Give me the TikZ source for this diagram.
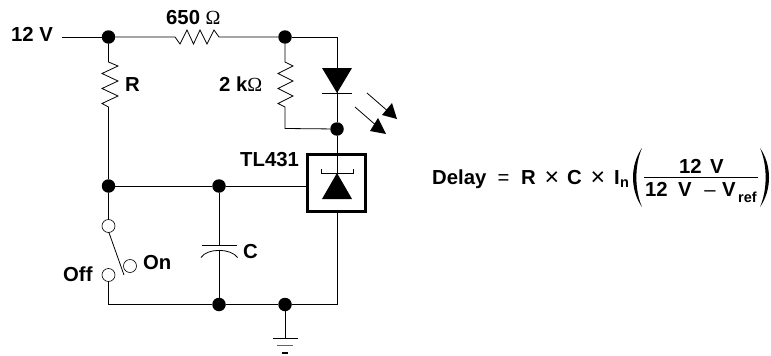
\documentclass[tikz,border=0pt]{standalone}
\usepackage{fontspec}
\setmainfont{Liberation Sans}
\newfontfamily\symfont{Liberation Serif}
\newcommand{\OhmSym}{{\symfont\fontsize{20}{22}\selectfont\mdseries Ω}}
\begin{document}
\begin{tikzpicture}[x=1pt,y=-1pt,
  wire/.style={line width=0.8pt,line join=miter},
  dot/.style={circle,fill=black,draw=none,minimum size=13.5pt,inner sep=0pt},
  open/.style={circle,draw=black,fill=white,line width=0.6pt,minimum size=13pt,inner sep=0pt},
  lab/.style={font=\bfseries\fontsize{20.3}{22}\selectfont,inner sep=0pt,text=black,anchor=base west},
  sublab/.style={font=\bfseries\fontsize{14.5}{16}\selectfont,inner sep=0pt,text=black,anchor=base west},
  oplab/.style={font=\fontsize{20.3}{22}\selectfont,inner sep=0pt,text=black,anchor=base},
  timeslab/.style={font=\fontsize{25}{26}\selectfont,inner sep=0pt,text=black,anchor=base},
  blk/.style={fill=black,draw=none}]
\useasboundingbox (0,0) rectangle (771,356);
\node[dot] (top) at (108.5,37) {};
\node[dot] (mid) at (285,37) {};
\node[dot] (j) at (337,129) {};
\node[dot] (lft) at (108.5,186) {};
\node[dot] (cap) at (219,186) {};
\node[dot] (bc) at (219,304.5) {};
\node[dot] (bg) at (285,304.5) {};
\node[open] (s1) at (108.5,226) {};
\node[open] (s2) at (130,266) {};
\node[open] (s3) at (108.5,275) {};
\coordinate (in) at (62,37);
\coordinate (cor) at (337,37);
\coordinate (bl) at (108.5,304.5);
\coordinate (br) at (337,304.5);
\coordinate (gnd) at (285,338.5);
\coordinate (kb) at (285,128.5);
\draw[wire] (in) -- (top);
\draw[wire] (top) -- (175,37) -- (180,44) -- (187,30) -- (193.5,44) -- (200,30) -- (207,44) -- (214,30) -- (219,37) -- (mid);
\draw[wire] (mid) -- (cor) -- (j);
\draw[wire] (top) -- (108.5,62) -- (118,66) -- (102,73.5) -- (118,81) -- (102,88.5) -- (118,96) -- (102,103.5) -- (108.5,107) -- (lft);
\draw[wire] (mid) -- (285,62) -- (293,66) -- (278,73.5) -- (293,81) -- (278,88.5) -- (293,96) -- (278,103.5) -- (285,107) -- (kb) -- (j);
\draw[wire] (lft) -- (s1);
\draw[wire] (lft) -- (cap) -- (306,186);
\draw[wire] (cap) -- (219,245);
\draw[wire] (219,250.5) -- (bc);
\draw[wire] (s3) -- (bl) -- (bc) -- (bg) -- (br) -- (337,213);
\draw[wire] (j) -- (337,153);
\draw[wire] (bg) -- (gnd);
\draw[wire] (109,232.7) -- (124,275);
% capacitor
\draw[wire] (202,245) -- (237,245);
\draw[wire] (201,257.5) .. controls (207,248) and (231,248) .. (237.5,257.5);
% LED
\fill[blk] (322,68) -- (352,68) -- (337,93) -- cycle;
\draw[wire] (322,93) -- (352,93);
\draw[wire] (367,93) -- (390,113);
\fill[blk] (397,119) -- (392,103) -- (382,115) -- cycle;
\draw[wire] (355,107) -- (378,127);
\fill[blk] (386,134) -- (378,118) -- (370,131) -- cycle;
% TL431
\draw[line width=3pt,line join=miter] (307.5,154.5) rectangle (365.5,211.5);
\fill[blk] (322,199) -- (352,199) -- (337,173) -- cycle;
\draw[wire] (321,169) -- (321,173) -- (353,173) -- (353,169);
\draw[wire] (337,153) -- (337,199);
% ground
\draw[wire] (273,338.7) -- (298,338.7);
\draw[line width=1.2pt,black!60] (277,345.5) -- (293,345.5);
\draw[line width=2.5pt] (282,353) -- (288,353);
% labels
\node[lab] at (11,41.7) {12 V};
\node[lab] at (166,24) {650 \OhmSym};
\node[lab] at (125,91) {R};
\node[lab] at (219,91) {2 k\OhmSym};
\node[lab] at (240,166) {TL431};
\node[lab] at (243,258) {C};
\node[lab] at (143,269) {On};
\node[lab] at (63,281) {Off};
\node[lab] at (432,184) {Delay};
\node[oplab] at (503.5,184) {=};
\node[lab] at (521,184) {R};
\node[timeslab] at (552,185) {×};
\node[lab] at (567,184) {C};
\node[timeslab] at (598,185) {×};
\node[lab] at (614,184) {I};
\node[sublab] at (620,187) {n};
\node[lab] at (679,173) {12};
\node[lab] at (710,173) {V};
\node[lab] at (645,196.7) {12};
\node[lab] at (678,196.7) {V};
\node[oplab] at (710,196.7) {–};
\node[lab] at (722,196.7) {V};
\node[sublab] at (738,202.7) {ref};
\coordinate (fa) at (644,177.3);
\coordinate (fb) at (758,177.3);
\draw[line width=0.8pt] (fa) -- (fb);
\fill[blk] (642,148) .. controls (630,165) and (630,190) .. (642,207) .. controls (634.5,190) and (634.5,165) .. cycle;
\fill[blk] (760,148) .. controls (772,165) and (772,190) .. (760,207) .. controls (767.5,190) and (767.5,165) .. cycle;
\end{tikzpicture}
\end{document}
